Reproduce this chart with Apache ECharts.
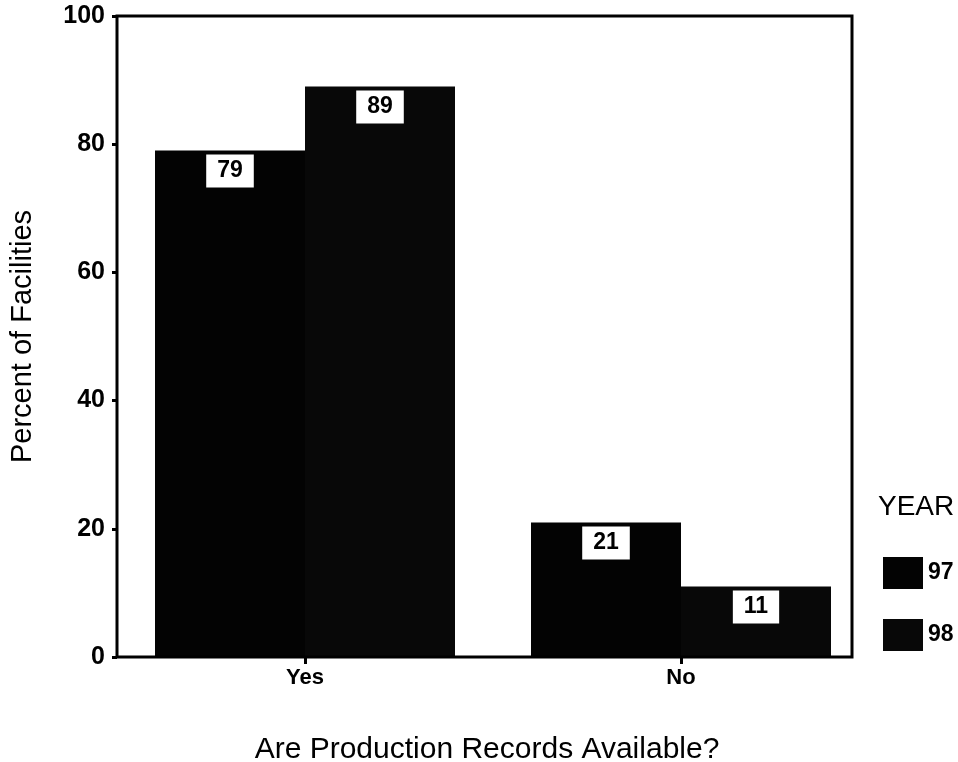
<!DOCTYPE html>
<html>
<head>
<meta charset="utf-8">
<script src="https://cdn.jsdelivr.net/npm/echarts@6/dist/echarts.min.js"></script>
<style>
  html, body { margin: 0; padding: 0; background: #fff; }
  #chart { width: 958px; height: 762px; }
</style>
</head>
<body>
<div id="chart"></div>
<script>
// Survey answers and percentages per year
const categories = ['Yes', 'No'];
const seriesNames = ['97', '98'];
const values97 = [79, 21];
const values98 = [89, 11];
const yTicks = { min: 0, max: 100, interval: 20 };

const GRID_LEFT = 117, GRID_TOP = 16, GRID_HEIGHT = 641;
const FRAME_WIDTH = 735;
const FONT = '"Liberation Sans", Arial, sans-serif';

const chart = echarts.init(document.getElementById('chart'));

const valueLabel = {
  show: true,
  position: 'insideTop',
  distance: 4,
  color: '#000',
  fontFamily: FONT,
  fontWeight: 'bold',
  fontSize: 23,
  lineHeight: 25,
  backgroundColor: '#fff',
  padding: [4, 11, 4, 11]
};

chart.setOption({
  backgroundColor: '#fff',
  animation: false,
  textStyle: { fontFamily: FONT },
  grid: {
    left: GRID_LEFT, top: GRID_TOP, width: 752, height: GRID_HEIGHT,
    containLabel: false, outerBoundsMode: 'none'
  },
  title: {
    text: 'YEAR',
    left: 873,
    top: 488,
    textStyle: { fontFamily: FONT, fontSize: 28, fontWeight: 'normal', color: '#000' }
  },
  legend: {
    data: seriesNames,
    orient: 'vertical',
    left: 878,
    top: 552,
    itemWidth: 40,
    itemHeight: 32,
    itemGap: 30,
    icon: 'rect',
    textStyle: { fontFamily: FONT, fontSize: 23, fontWeight: 'bold', color: '#000' }
  },
  xAxis: {
    type: 'category',
    data: categories,
    name: 'Are Production Records Available?',
    nameLocation: 'middle',
    nameGap: 78,
    nameTextStyle: { fontFamily: FONT, fontSize: 30, color: '#000', padding: [0, 0, 0, -12] },
    axisLine: { show: false },
    axisTick: { show: true, alignWithLabel: true, length: 7, lineStyle: { color: '#000', width: 3 } },
    axisLabel: { color: '#000', fontFamily: FONT, fontSize: 22, fontWeight: 'bold', margin: 10 },
    splitLine: { show: false }
  },
  yAxis: {
    type: 'value',
    min: yTicks.min,
    max: yTicks.max,
    interval: yTicks.interval,
    name: 'Percent of Facilities',
    nameLocation: 'middle',
    nameGap: 80,
    nameTextStyle: { fontFamily: FONT, fontSize: 29, color: '#000' },
    axisLine: { show: false },
    axisTick: { show: true, length: 5, lineStyle: { color: '#000', width: 3 } },
    axisLabel: { color: '#000', fontFamily: FONT, fontSize: 25, fontWeight: 'bold', margin: 12 },
    splitLine: { show: false }
  },
  series: [
    {
      name: seriesNames[0],
      type: 'bar',
      data: values97,
      barWidth: 150,
      barGap: '0%',
      itemStyle: { color: '#030303' },
      label: valueLabel
    },
    {
      name: seriesNames[1],
      type: 'bar',
      data: values98,
      barWidth: 150,
      itemStyle: { color: '#080808' },
      label: valueLabel
    }
  ],
  graphic: [
    {
      type: 'rect',
      z: 100,
      shape: { x: GRID_LEFT, y: GRID_TOP, width: FRAME_WIDTH, height: GRID_HEIGHT },
      style: { fill: 'none', stroke: '#000', lineWidth: 3 }
    }
  ]
});
</script>
</body>
</html>
